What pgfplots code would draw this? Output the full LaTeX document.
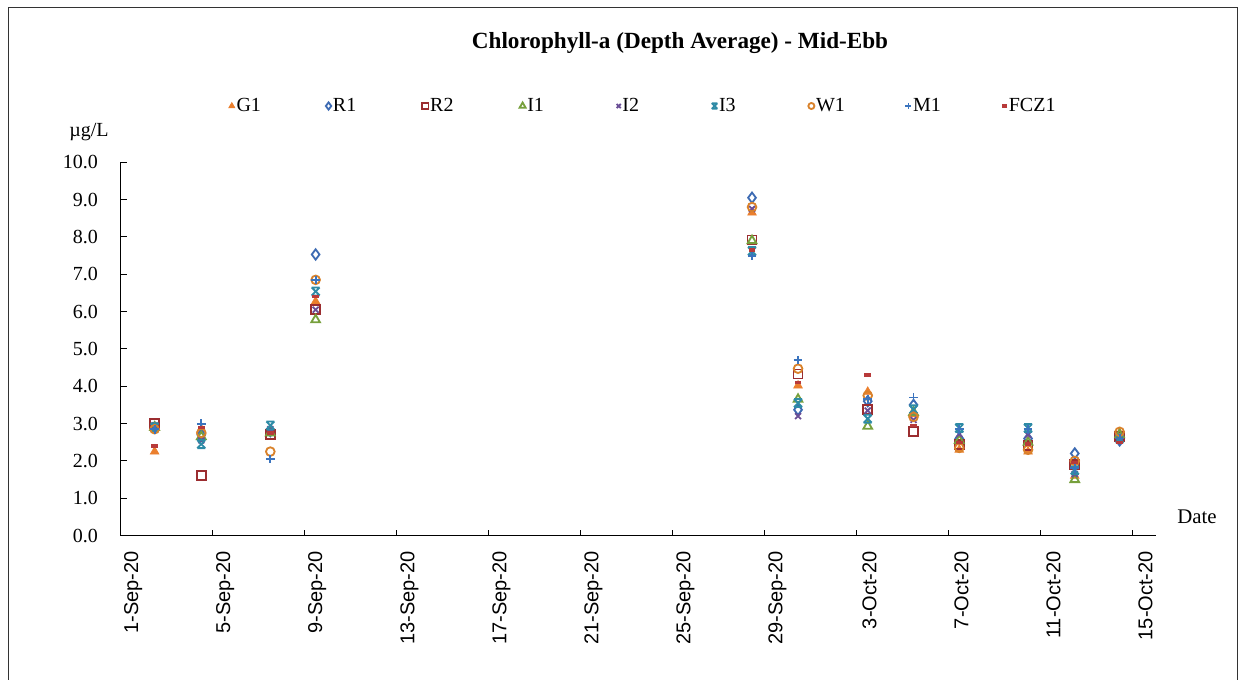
\documentclass[border=0pt]{standalone}
\usepackage{fontspec}
\setmainfont{Liberation Serif}
\newfontfamily\arial{Liberation Sans}
\usepackage{pgfplots}
\usepackage{pgfplotstable}
\pgfplotsset{compat=1.18}

\definecolor{cG1}{HTML}{EB7F2D}
\definecolor{cR1}{HTML}{3D6BB3}
\definecolor{cR2}{HTML}{9B2D30}
\definecolor{cI1}{HTML}{77A03C}
\definecolor{cI2}{HTML}{6A4E96}
\definecolor{cI3}{HTML}{2E8BA6}
\definecolor{cW1}{HTML}{D9822B}
\definecolor{cM1}{HTML}{3B74BE}
\definecolor{cFCZ}{HTML}{B83A3A}

\pgfdeclareplotmark{xstar}{%
  \pgfpathmoveto{\pgfqpoint{-\pgfplotmarksize}{\pgfplotmarksize}}%
  \pgfpathlineto{\pgfqpoint{\pgfplotmarksize}{-\pgfplotmarksize}}%
  \pgfpathmoveto{\pgfqpoint{\pgfplotmarksize}{\pgfplotmarksize}}%
  \pgfpathlineto{\pgfqpoint{-\pgfplotmarksize}{-\pgfplotmarksize}}%
  \pgfpathmoveto{\pgfqpoint{-\pgfplotmarksize}{\pgfplotmarksize}}%
  \pgfpathlineto{\pgfqpoint{\pgfplotmarksize}{\pgfplotmarksize}}%
  \pgfpathmoveto{\pgfqpoint{-\pgfplotmarksize}{-\pgfplotmarksize}}%
  \pgfpathlineto{\pgfqpoint{\pgfplotmarksize}{-\pgfplotmarksize}}%
  \pgfusepathqstroke}

% day = days after 1-Sep-20 00:00
\pgfplotstableread{
day   G1   R1   R2   I1   I2   I3   W1   M1   FCZ1
1.47  2.25 2.90 3.00 2.90 2.95 2.90 2.85 2.85 2.40
3.50  2.85 2.70 1.60 2.65 2.55 2.45 2.75 3.00 2.90
6.50  2.75 2.80 2.70 2.75 2.85 2.95 2.25 2.05 2.75
8.47  6.27 7.53 6.05 5.78 6.05 6.54 6.85 6.85 6.40
27.44 8.65 9.05 7.92 7.90 8.75 7.62 8.80 7.50 7.65
29.44 4.02 3.37 4.33 3.65 3.20 3.55 4.47 4.70 4.10
32.47 3.85 3.60 3.37 2.93 3.35 3.13 3.75 3.65 4.30
34.46 3.25 3.50 2.78 3.30 3.10 3.38 3.18 3.70 2.95
36.45 2.30 2.60 2.45 2.55 2.72 2.88 2.35 2.85 2.50
39.44 2.25 2.60 2.42 2.50 2.70 2.88 2.30 2.85 2.45
41.47 1.60 2.20 1.90 1.50 1.65 1.75 2.00 1.80 1.95
43.42 2.75 2.55 2.65 2.70 2.55 2.60 2.78 2.60 2.50
}\datatable

\newcommand{\legbox}[1]{\makebox[52.6pt][l]{#1}}

\begin{document}
\begin{tikzpicture}
\useasboundingbox (0,0) rectangle (747.6pt,407.4pt);
\begin{axis}[
  at={(72.48pt,86.04pt)}, anchor=south west,
  scale only axis, width=621.1pt, height=224pt,
  xmin=0, xmax=45, ymin=0, ymax=10,
  axis lines=left, axis line style={-, black, line width=0.7pt},
  tick align=inside, major tick length=3.6pt,
  tick style={black, line width=0.6pt},
  xtick={0,4,...,44},
  xticklabels={1-Sep-20,5-Sep-20,9-Sep-20,13-Sep-20,17-Sep-20,21-Sep-20,25-Sep-20,29-Sep-20,3-Oct-20,7-Oct-20,11-Oct-20,15-Oct-20},
  x tick label style={font=\arial\fontsize{12}{14}\selectfont, inner sep=2pt, xshift=7.5pt, yshift=-7.2pt, rotate=90, anchor=east},
  ytick={0,1,...,10},
  y tick label style={font=\fontsize{12}{14}\selectfont, xshift=-10.2pt},
  yticklabel style={/pgf/number format/.cd, fixed, fixed zerofill, precision=1, assume math mode=true},
  clip=false,
  mark size=2.7pt,
  every axis plot/.append style={only marks, line width=1.1pt},
  legend image code/.code={\draw[#1,/tikz/every mark/.append style={scale=0.7},mark repeat=2,mark phase=2] plot coordinates {(0cm,0cm) (0.09cm,0cm) (0.18cm,0cm)};},
  legend columns=9,
  legend style={draw=none, fill=none, at={(rel axis cs:0.104,1.1507)}, anchor=west,
    font=\fontsize{12}{14}\selectfont, inner xsep=0pt, column sep=0pt,
    nodes={inner xsep=1pt}, /tikz/every even column/.append style={column sep=0pt}},
]
\addplot[cG1, mark=triangle*, mark options={fill=cG1, line width=0.4pt}, mark size=3pt] table[x=day,y=G1]{\datatable};
\addlegendentry{\legbox{G1}}
\addplot[cR1, mark=diamond, mark size=3.1pt] table[x=day,y=R1]{\datatable};
\addlegendentry{\legbox{R1}}
\addplot[cR2, mark=square] table[x=day,y=R2]{\datatable};
\addlegendentry{\legbox{R2}}
\addplot[cI1, mark=triangle, mark size=3pt] table[x=day,y=I1]{\datatable};
\addlegendentry{\legbox{I1}}
\addplot[cI2, mark=x, mark size=2.5pt] table[x=day,y=I2]{\datatable};
\addlegendentry{\legbox{I2}}
\addplot[cI3, mark=xstar, mark size=2.4pt] table[x=day,y=I3]{\datatable};
\addlegendentry{\legbox{I3}}
\addplot[cW1, mark=o, mark size=2.6pt] table[x=day,y=W1]{\datatable};
\addlegendentry{\legbox{W1}}
\addplot[cM1, mark=+, mark size=2.6pt] table[x=day,y=M1]{\datatable};
\addlegendentry{\legbox{M1}}
\addplot[cFCZ, mark=-, mark options={line width=2pt}, mark size=2pt] table[x=day,y=FCZ1]{\datatable};
\addlegendentry{\legbox{FCZ1}}
\end{axis}
\begin{scope}[x=0.6pt,y=0.6pt]
\draw[line width=0.6pt, black!80] (8,-2) -- (8,671) -- (1237,671) -- (1237,-2);
\node[font=\fontsize{13.9}{16}\selectfont\bfseries] at (680,636) {Chlorophyll-a (Depth Average) - Mid-Ebb};
\node[font=\fontsize{12}{14}\selectfont] at (89,547) {µg/L};
\node[font=\fontsize{12.5}{14}\selectfont] at (1197,162) {Date};
\end{scope}
\end{tikzpicture}
\end{document}
